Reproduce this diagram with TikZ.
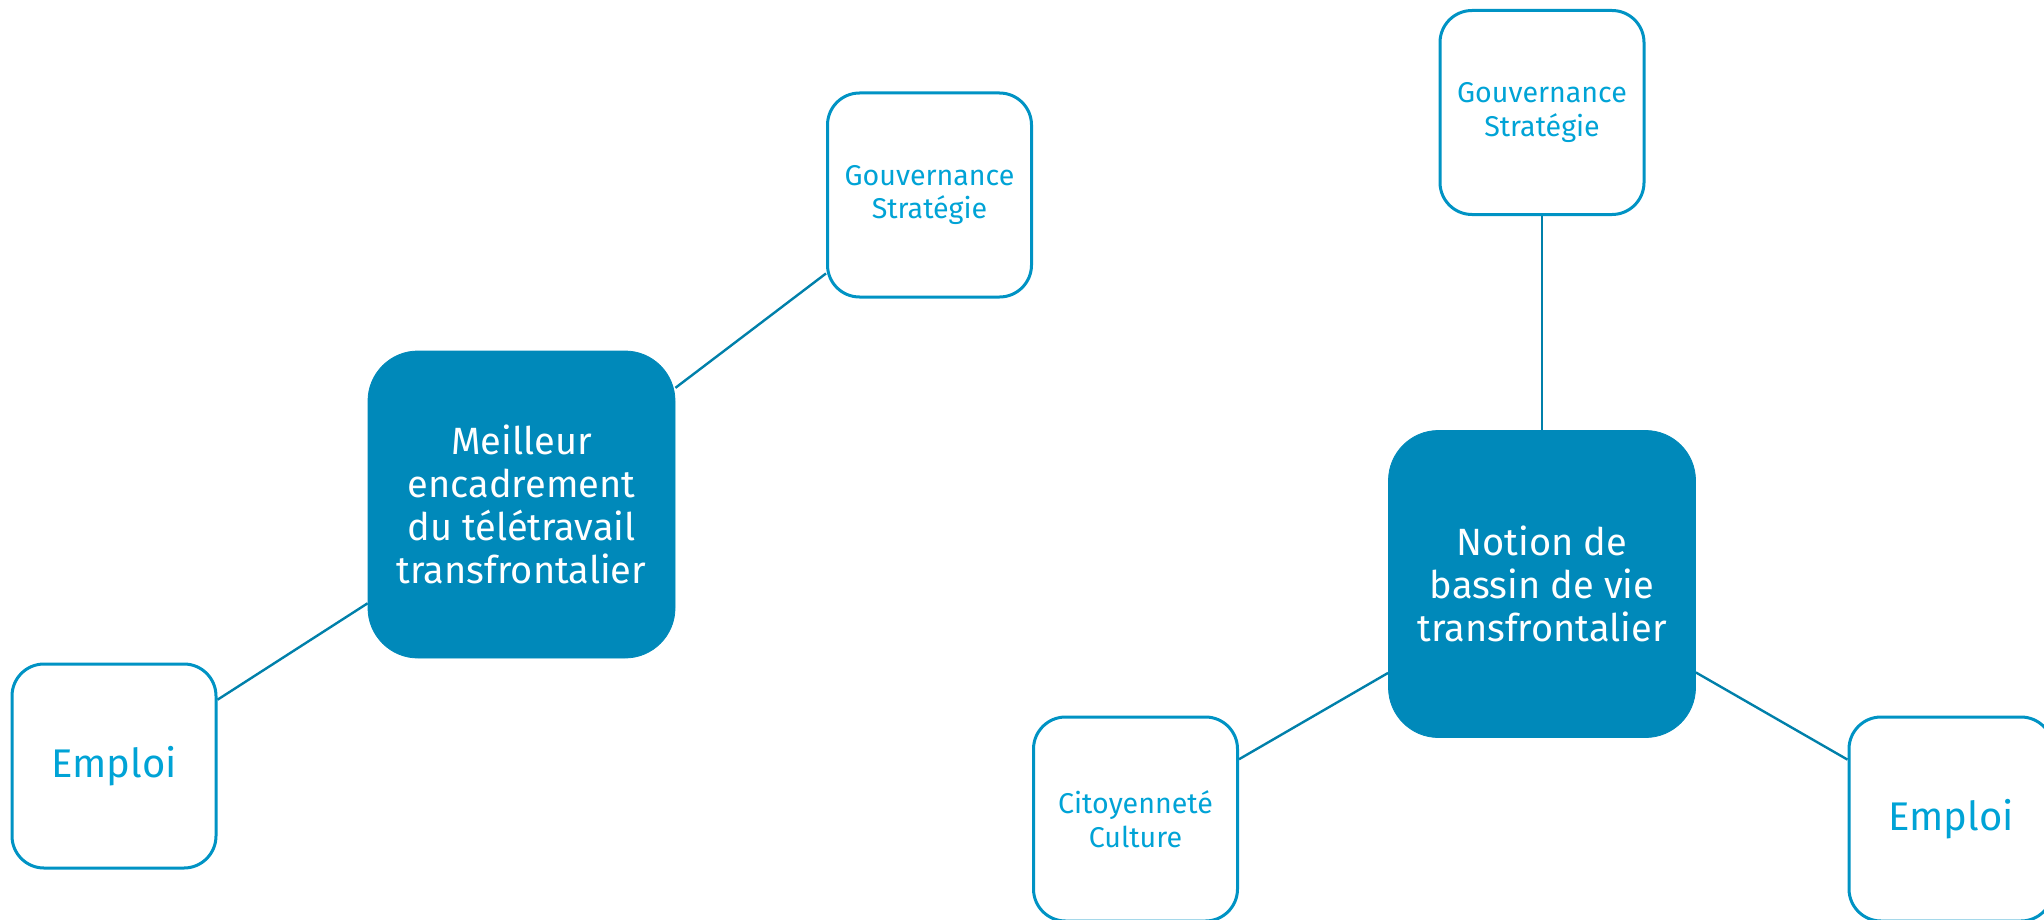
\documentclass[tikz,border=0pt]{standalone}
\usepackage{fontspec}
\setmainfont{Fira Sans}
\usetikzlibrary{positioning}

\definecolor{hubblue}{HTML}{0089BA}
\definecolor{edgeblue}{HTML}{0093C4}
\definecolor{textblue}{HTML}{00A3D6}
\definecolor{linkblue}{HTML}{0080AA}

\tikzset{
	hub/.style = {draw=hubblue, fill=hubblue, text=white, rounded corners=25pt,
		minimum width=153.5pt, minimum height=153.5pt, align=center,
		font=\fontsize{19}{21.5}\selectfont},
	topic/.style = {draw=edgeblue, line width=1.5pt, fill=white, text=textblue,
		rounded corners=16pt, minimum width=102pt, minimum height=102pt,
		align=center, font=\fontsize{14.3}{16.8}\selectfont},
	bigtopic/.style = {topic, font=\fontsize{20}{22}\selectfont},
	link/.style = {draw=linkblue, line width=1.2pt},
}

\begin{document}
\begin{tikzpicture}[x=0.5pt, y=-0.5pt, on grid]
	\useasboundingbox (0,0) rectangle (2044,920);

	\node[hub] (cadre) at (521.5,504.5) {Meilleur\\encadrement\\du télétravail\\transfrontalier};
	\node[topic, above right = 154.75pt and 204pt of cadre] (gouvA) {Gouvernance\\Stratégie};
	\node[bigtopic, below left = 130.75pt and 203.75pt of cadre] (emploiA) {Emploi};

	\node[hub, below right = 39.75pt and 510.25pt of cadre] (bassin) {Notion de\\bassin de vie\\transfrontalier};
	\node[topic, above = 235.75pt of bassin] (gouvB) {Gouvernance\\Stratégie};
	\node[topic, below left = 117.5pt and 203.25pt of bassin] (citoy) {Citoyenneté\\Culture};
	\node[bigtopic, below right = 117.5pt and 204.5pt of bassin] (emploiB) {Emploi};

	\path[link] (cadre) -- (gouvA);
	\path[link] (cadre) -- (emploiA);
	\path[link] (bassin) -- (gouvB);
	\path[link] (bassin) -- (citoy);
	\path[link] (bassin) -- (emploiB);
\end{tikzpicture}
\end{document}
